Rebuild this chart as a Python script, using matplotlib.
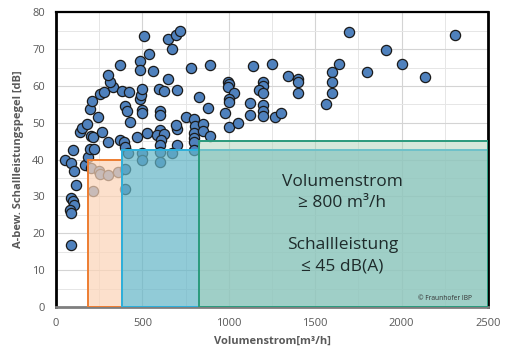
import numpy as np
import matplotlib
matplotlib.use('Agg')
import matplotlib.pyplot as plt

plt.rcParams['font.family'] = ['Open Sans', 'DejaVu Sans']

# Messpunkte (Volumenstrom in m³/h, Schallleistungspegel in dB)
vol = [50, 99, 88, 103, 113, 89, 100, 105, 80, 84, 84, 137, 150, 168, 180, 188, 195, 220,
       205, 216, 264, 299, 242, 199, 207, 253, 276, 330, 311, 301,
       205, 249, 257, 299, 359, 400, 212, 400,
       373, 384, 422, 397, 410, 430, 371, 395, 401, 419, 467, 485, 485, 511, 537, 561,
       484, 494, 500, 500, 500, 525, 500, 500, 598, 625, 600, 603, 600, 582, 623, 605,
       604, 600, 600, 646, 648, 673, 696, 718, 700, 700, 696, 703, 672, 779, 825, 750,
       800, 802, 800, 800, 797, 797, 848, 850, 879, 894, 892,
       981, 998, 1004, 995, 1029, 1000, 1000, 1000, 1055, 1141, 1248, 1125, 1125, 1197,
       1200, 1177, 1200, 1197, 1200, 1200, 1266, 1301, 1341, 1399, 1399, 1399, 1564,
       1600, 1600, 1600, 1640, 1697, 1802, 1909, 2002, 2136, 2310]
lw_db = [40.0, 42.6, 39.2, 36.8, 33.0, 29.5, 28.8, 27.8, 26.3, 25.4, 16.7, 47.4, 48.5, 38.5,
         49.8, 40.8, 42.9, 42.9, 46.3, 46.2, 47.4, 44.9, 51.5, 53.8, 56.0, 57.8, 58.3, 59.8,
         61.1, 62.9,
         37.6, 37.0, 36.2, 35.7, 36.6, 37.5, 31.6, 31.9,
         65.7, 58.7, 58.4, 54.6, 53.2, 50.1, 45.3, 44.8, 43.5, 41.9, 46.1, 66.8, 64.3, 73.6,
         68.8, 64.1, 56.4, 57.5, 59.3, 53.5, 52.6, 47.1, 41.7, 39.9, 59.2, 58.7, 53.3, 52.2,
         48.0, 46.8, 46.9, 45.2, 44.0, 42.1, 39.4, 61.9, 72.8, 70.1, 73.8, 74.8, 58.8, 48.3,
         49.3, 43.9, 41.9, 64.9, 57.0, 51.6, 50.9, 49.0, 47.2, 46.0, 44.8, 42.7, 49.8, 47.7,
         54.0, 46.3, 65.6,
         52.7, 61.1, 60.5, 59.6, 58.0, 56.4, 55.7, 48.9, 50.0, 65.5, 66.1, 55.5, 52.1, 61.1,
         60.0, 58.9, 58.0, 54.8, 53.3, 51.8, 51.6, 52.7, 62.8, 61.9, 61.0, 58.0, 55.1,
         63.9, 61.0, 58.0, 65.9, 74.7, 63.9, 69.7, 65.9, 62.5, 73.8]

# Anforderungsbereiche
zone_start = [185, 380, 830]
zone_end = [380, 2500, 2500]
zone_limit = [40, 42.5, 45]
zone_face = [(252/255, 212/255, 183/255, 0.7),
             (99/255, 181/255, 199/255, 0.7),
             (174/255, 211/255, 184/255, 0.5)]
zone_edge = ['#ed7d31', '#2cb0dc', '#2a9a7c']

fig = plt.figure(figsize=(5.12, 3.62), dpi=100)
ax = fig.add_axes([0.1094, 0.152, 0.8436, 0.814])

ax.scatter(vol, lw_db, s=54, facecolor='#4f81bd', edgecolor='#1a1a1a',
           linewidth=0.9, zorder=2)

for x0, x1, h, fc, ec in zip(zone_start, zone_end, zone_limit, zone_face, zone_edge):
    ax.bar(x0, h, width=x1 - x0, align='edge', facecolor=fc, edgecolor=ec,
           linewidth=1.4, zorder=3)

ax.set_xlim(0, 2500)
ax.set_ylim(0, 80)
ax.set_xticks(np.arange(0, 2501, 500))
ax.set_yticks(np.arange(0, 81, 10))
ax.set_xticks(np.arange(0, 2501, 250), minor=True)
ax.set_yticks(np.arange(0, 81, 5), minor=True)
ax.grid(which='major', color='#d4d4d4', linewidth=0.8)
ax.grid(which='minor', color='#e6e6e6', linewidth=0.7)
ax.set_axisbelow(True)
ax.tick_params(which='both', length=0, colors='#595959', labelsize=8)
ax.tick_params(axis='x', pad=8)
ax.tick_params(axis='y', pad=8)

for s in ['left', 'right']:
    ax.spines[s].set_linewidth(2)
    ax.spines[s].set_color('black')
ax.spines['top'].set_linewidth(1.6)
ax.spines['bottom'].set_linewidth(2)
ax.spines['bottom'].set_color('#7f7f7f')

ax.set_xlabel('Volumenstrom[m³/h]', fontsize=8, fontweight='bold', color='#595959', labelpad=5)
ax.set_ylabel('A-bew. Schallleistungspegel [dB]', fontsize=8, fontweight='bold',
              color='#595959', labelpad=6)

txt_col = '#1e2b2b'
ax.text(1657, 33.9, 'Volumenstrom', ha='center', va='center', fontsize=12.5, color=txt_col, zorder=5)
ax.text(1657, 28.2, '≥ 800 m³/h', ha='center', va='center', fontsize=12.5, color=txt_col, zorder=5)
ax.text(1657, 16.8, 'Schallleistung', ha='center', va='center', fontsize=12.5, color=txt_col, zorder=5)
ax.text(1657, 11.1, '≤ 45 dB(A)', ha='center', va='center', fontsize=12.5, color=txt_col, zorder=5)
ax.text(2405, 2.4, '© Fraunhofer IBP', ha='right', va='center', fontsize=4.8, color='#333333', zorder=5)

fig.savefig('out.png', dpi=100)
